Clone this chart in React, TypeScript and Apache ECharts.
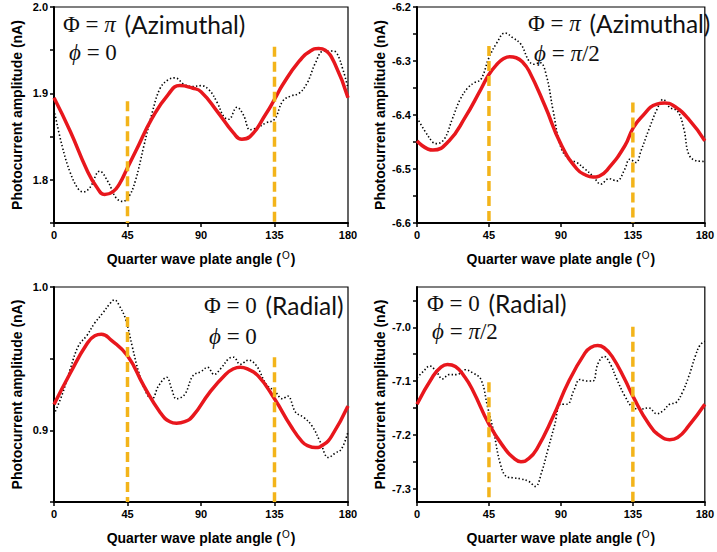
import React, { useEffect, useRef } from "react";
import * as echarts from "echarts";

// Quarter wave plate angle ticks (degrees)
const angleTicks = [0, 45, 90, 135, 180];

// Panel 1: Φ = π (Azimuthal), ϕ = 0
const fit1Angles = [0, 10, 20, 26, 31, 36, 40, 45, 50, 60, 70, 77, 85, 90, 100, 110, 115, 120, 130, 135, 140, 150, 157, 162, 166, 172, 180];
const fit1Values = [1.895, 1.856, 1.812, 1.792, 1.783, 1.786, 1.795, 1.814, 1.833, 1.871, 1.899, 1.909, 1.906, 1.902, 1.879, 1.854, 1.847, 1.850, 1.877, 1.893, 1.910, 1.937, 1.949, 1.952, 1.950, 1.934, 1.895];
const meas1Angles = [0, 5, 10, 15, 18, 22, 28, 33, 38, 42, 46, 50, 55, 60, 65, 70, 74, 80, 85, 90, 95, 100, 104, 107, 112, 116, 120, 124, 130, 135, 140, 145, 150, 155, 160, 165, 170, 173, 177, 180];
const meas1Values = [1.881, 1.839, 1.808, 1.789, 1.786, 1.791, 1.810, 1.798, 1.779, 1.775, 1.781, 1.800, 1.839, 1.877, 1.906, 1.916, 1.918, 1.910, 1.908, 1.909, 1.904, 1.889, 1.873, 1.870, 1.884, 1.875, 1.858, 1.860, 1.866, 1.870, 1.891, 1.897, 1.900, 1.912, 1.935, 1.949, 1.949, 1.947, 1.927, 1.906];
const guide1Tops = [1.891, 1.954];

// Panel 2: Φ = π (Azimuthal), ϕ = π/2
const fit2Angles = [0, 10, 20, 30, 40, 45, 50, 54, 58, 62, 66, 70, 80, 90, 100, 106, 110, 114, 120, 130, 135, 140, 150, 155, 160, 170, 180];
const fit2Values = [-6.448, -6.465, -6.448, -6.405, -6.352, -6.325, -6.306, -6.296, -6.292, -6.294, -6.302, -6.318, -6.383, -6.454, -6.500, -6.512, -6.515, -6.513, -6.498, -6.457, -6.425, -6.405, -6.380, -6.378, -6.382, -6.408, -6.448];
const meas2Angles = [0, 5, 10, 12, 17, 22, 27, 32, 36, 40, 45, 50, 55, 60, 65, 70, 73, 77, 81, 85, 90, 95, 100, 105, 110, 115, 120, 125, 130, 133, 137, 140, 145, 150, 154, 158, 163, 167, 170, 175, 180];
const meas2Values = [-6.405, -6.430, -6.451, -6.453, -6.445, -6.408, -6.371, -6.349, -6.340, -6.334, -6.294, -6.266, -6.248, -6.257, -6.269, -6.300, -6.306, -6.303, -6.328, -6.390, -6.460, -6.482, -6.488, -6.500, -6.513, -6.528, -6.518, -6.522, -6.500, -6.482, -6.488, -6.467, -6.427, -6.390, -6.371, -6.386, -6.393, -6.427, -6.473, -6.485, -6.486];
const guide2Tops = [-6.272, -6.377];

// Panel 3: Φ = 0 (Radial), ϕ = 0
const fit3Angles = [0, 10, 20, 25, 29, 35, 45, 55, 65, 71, 75, 80, 85, 95, 105, 110, 114, 118, 125, 135, 145, 152, 156, 160, 165, 170, 180];
const fit3Values = [0.918, 0.940, 0.960, 0.966, 0.967, 0.963, 0.952, 0.931, 0.9125, 0.906, 0.905, 0.906, 0.910, 0.926, 0.939, 0.943, 0.944, 0.943, 0.938, 0.922, 0.903, 0.892, 0.889, 0.888, 0.890, 0.896, 0.917];
const meas3Angles = [0, 5, 10, 15, 20, 25, 30, 34, 37, 40, 44, 48, 52, 57, 60, 64, 69, 72, 75, 80, 85, 90, 94, 98, 102, 107, 110, 114, 119, 124, 130, 135, 140, 143, 148, 153, 158, 163, 168, 172, 176, 180];
const meas3Values = [0.911, 0.925, 0.943, 0.959, 0.966, 0.975, 0.982, 0.988, 0.991, 0.987, 0.977, 0.958, 0.940, 0.925, 0.922, 0.931, 0.937, 0.929, 0.922, 0.925, 0.938, 0.941, 0.944, 0.939, 0.943, 0.950, 0.951, 0.946, 0.949, 0.945, 0.932, 0.9275, 0.922, 0.924, 0.9125, 0.909, 0.903, 0.892, 0.881, 0.884, 0.887, 0.899];
const guide3Tops = [0.979, 0.951];

// Panel 4: Φ = 0 (Radial), ϕ = π/2
const fit4Angles = [0, 10, 15, 19, 24, 30, 35, 45, 55, 60, 65, 70, 75, 85, 95, 105, 109, 113, 117, 122, 130, 135, 145, 152, 158, 163, 170, 180];
const fit4Values = [-7.143, -7.091, -7.074, -7.069, -7.073, -7.093, -7.118, -7.180, -7.226, -7.242, -7.250, -7.244, -7.226, -7.167, -7.100, -7.048, -7.037, -7.034, -7.038, -7.054, -7.097, -7.128, -7.180, -7.202, -7.209, -7.205, -7.183, -7.143];
const meas4Angles = [0, 4, 8, 12, 16, 20, 25, 30, 35, 40, 44, 48, 52, 56, 60, 65, 70, 74, 78, 82, 86, 90, 94, 98, 102, 106, 110, 113, 117, 121, 125, 130, 135, 140, 145, 150, 154, 158, 162, 166, 170, 174, 177, 180];
const meas4Values = [-7.094, -7.082, -7.072, -7.082, -7.096, -7.088, -7.088, -7.079, -7.085, -7.097, -7.146, -7.195, -7.253, -7.278, -7.280, -7.282, -7.287, -7.296, -7.269, -7.226, -7.183, -7.143, -7.143, -7.118, -7.097, -7.100, -7.100, -7.069, -7.054, -7.069, -7.097, -7.128, -7.149, -7.152, -7.150, -7.161, -7.155, -7.143, -7.140, -7.121, -7.091, -7.054, -7.033, -7.026];
const guide4Tops = [-7.102, -6.999];

// Vertical guide positions (degrees)
const guideAngles = [45, 135];

// Y axis ranges, labels and ticks per panel
const yMins = [1.75, -6.6, 0.85, -7.325];
const yMaxs = [2.0, -6.2, 1.0, -6.925];
const yLabels = [
  [1.8, 1.9, 2.0],
  [-6.6, -6.5, -6.4, -6.3, -6.2],
  [0.9, 1.0],
  [-7.3, -7.2, -7.1, -7.0],
];
const yTicks = [
  [1.75, 1.8, 1.85, 1.9, 1.95, 2.0],
  [-6.6, -6.55, -6.5, -6.45, -6.4, -6.35, -6.3, -6.25, -6.2],
  [0.85, 0.9, 0.95, 1.0],
  [-7.3, -7.25, -7.2, -7.15, -7.1, -7.05, -7.0, -6.95],
];

// Panel captions: [math part, italic symbol, word]
const captionAzimuthal = ["Φ = ", "π", "(Azimuthal)"];
const captionRadial = ["Φ = 0", "", "(Radial)"];
const phiZero = "0";
const phiHalfPi = "π/2";

const zip = (xs: number[], ys: number[]) => xs.map((x, i) => [x, ys[i]]);

const fits = [zip(fit1Angles, fit1Values), zip(fit2Angles, fit2Values), zip(fit3Angles, fit3Values), zip(fit4Angles, fit4Values)];
const measured = [zip(meas1Angles, meas1Values), zip(meas2Angles, meas2Values), zip(meas3Angles, meas3Values), zip(meas4Angles, meas4Values)];
const guideTops = [guide1Tops, guide2Tops, guide3Tops, guide4Tops];

const grids = [
  { left: 54, top: 7, width: 294, height: 216 },
  { left: 417, top: 7, width: 294, height: 216 },
  { left: 54, top: 287, width: 294, height: 215 },
  { left: 417, top: 287, width: 294, height: 215 },
];

const labelFont = { fontFamily: "Liberation Sans, Arial, sans-serif", fontWeight: "bold" as const, color: "#000" };

const mathRich = {
  m: { fontFamily: "Liberation Serif, serif", fontSize: 23, fill: "#111" },
  i: { fontFamily: "Liberation Serif, serif", fontStyle: "italic", fontSize: 23, fill: "#111" },
  s: { fontFamily: "Lato, sans-serif", fontSize: 24.5, fill: "#111", padding: [0, 0, 0, 3] },
};

function captionLine(x: number, y: number, parts: string[]) {
  const [a, b, c] = parts;
  return {
    type: "text",
    x,
    y,
    z: 10,
    style: {
      text: `{m|${a}}` + (b ? `{i|${b}}` : "") + `{m| }{s|${c}}`,
      verticalAlign: "middle",
      align: "left",
      rich: mathRich,
    },
  };
}

function phiLine(x: number, y: number, rhs: string) {
  const isPi = rhs.startsWith("π");
  return {
    type: "text",
    x,
    y,
    z: 10,
    style: {
      text: isPi ? `{i|ϕ}{m| = }{i|π}{m|${rhs.slice(1)}}` : `{i|ϕ}{m| = ${rhs}}`,
      verticalAlign: "middle",
      align: "left",
      rich: mathRich,
    },
  };
}

export default function App() {
  const ref = useRef<HTMLDivElement>(null);

  useEffect(() => {
    if (!ref.current) return;
    const chart = echarts.init(ref.current, undefined, { renderer: "svg" });

    const xAxis = grids.map((_, i) => ({
      type: "value",
      gridIndex: i,
      min: 0,
      max: 180,
      interval: 45,
      name: "Quarter wave plate angle ({sup|O})",
      nameLocation: "middle",
      nameGap: 27,
      nameTextStyle: {
        ...labelFont,
        fontSize: 14,
        rich: {
          sup: { fontFamily: "Liberation Sans, Arial, sans-serif", fontSize: 10, fontWeight: "normal", color: "#000", padding: [0, 1, 8, 1], verticalAlign: "top" },
        },
      },
      axisLine: { show: true, onZero: false, lineStyle: { color: "#000", width: 2 } },
      axisTick: { show: true, length: 4, lineStyle: { color: "#000", width: 1.5 }, customValues: angleTicks },
      axisLabel: { ...labelFont, fontSize: 11, margin: 6, customValues: angleTicks },
      splitLine: { show: false },
    }));

    const yAxis = grids.map((_, i) => ({
      type: "value",
      gridIndex: i,
      min: yMins[i],
      max: yMaxs[i],
      name: "Photocurrent amplitude (nA)",
      nameLocation: "middle",
      nameGap: 30,
      nameTextStyle: { ...labelFont, fontSize: 14 },
      axisLine: { show: true, onZero: false, lineStyle: { color: "#000", width: 2 } },
      axisTick: { show: true, length: 4, lineStyle: { color: "#000", width: 1.5 }, customValues: yTicks[i] },
      axisLabel: { ...labelFont, fontSize: 11, margin: 6, customValues: yLabels[i], formatter: (v: number) => v.toFixed(1) },
      splitLine: { show: false },
    }));

    const series: any[] = [];
    grids.forEach((_, i) => {
      series.push({
        type: "line",
        xAxisIndex: i,
        yAxisIndex: i,
        data: measured[i],
        smooth: 0.4,
        showSymbol: false,
        lineStyle: { color: "#000", width: 1.6, type: [1.4, 2.2] },
        z: 2,
      });
      series.push({
        type: "line",
        xAxisIndex: i,
        yAxisIndex: i,
        data: fits[i],
        smooth: 0.5,
        showSymbol: false,
        lineStyle: { color: "#e8171d", width: 3.5 },
        z: 3,
      });
      guideAngles.forEach((a, k) => {
        series.push({
          type: "line",
          xAxisIndex: i,
          yAxisIndex: i,
          data: [
            [a, guideTops[i][k]],
            [a, yMins[i]],
          ],
          showSymbol: false,
          lineStyle: { color: "#f3b41a", width: 3.5, type: [10, 5] },
          z: 4,
        });
      });
    });

    const graphic = [
      captionLine(63, 24, captionAzimuthal),
      phiLine(69, 52, phiZero),
      captionLine(528, 23, captionAzimuthal),
      phiLine(534, 53, phiHalfPi),
      captionLine(204, 305, captionRadial),
      phiLine(209, 336, phiZero),
      captionLine(427, 303, captionRadial),
      phiLine(432, 331, phiHalfPi),
    ];

    chart.setOption({
      animation: false,
      backgroundColor: "#fff",
      grid: grids.map((g) => ({ ...g, show: true, borderColor: "#000", borderWidth: 1.2, backgroundColor: "transparent" })),
      xAxis,
      yAxis,
      series,
      graphic,
    });

    return () => chart.dispose();
  }, []);

  return <div ref={ref} style={{ position: "fixed", left: 0, top: 0, width: 717, height: 552, background: "#fff" }} />;
}
